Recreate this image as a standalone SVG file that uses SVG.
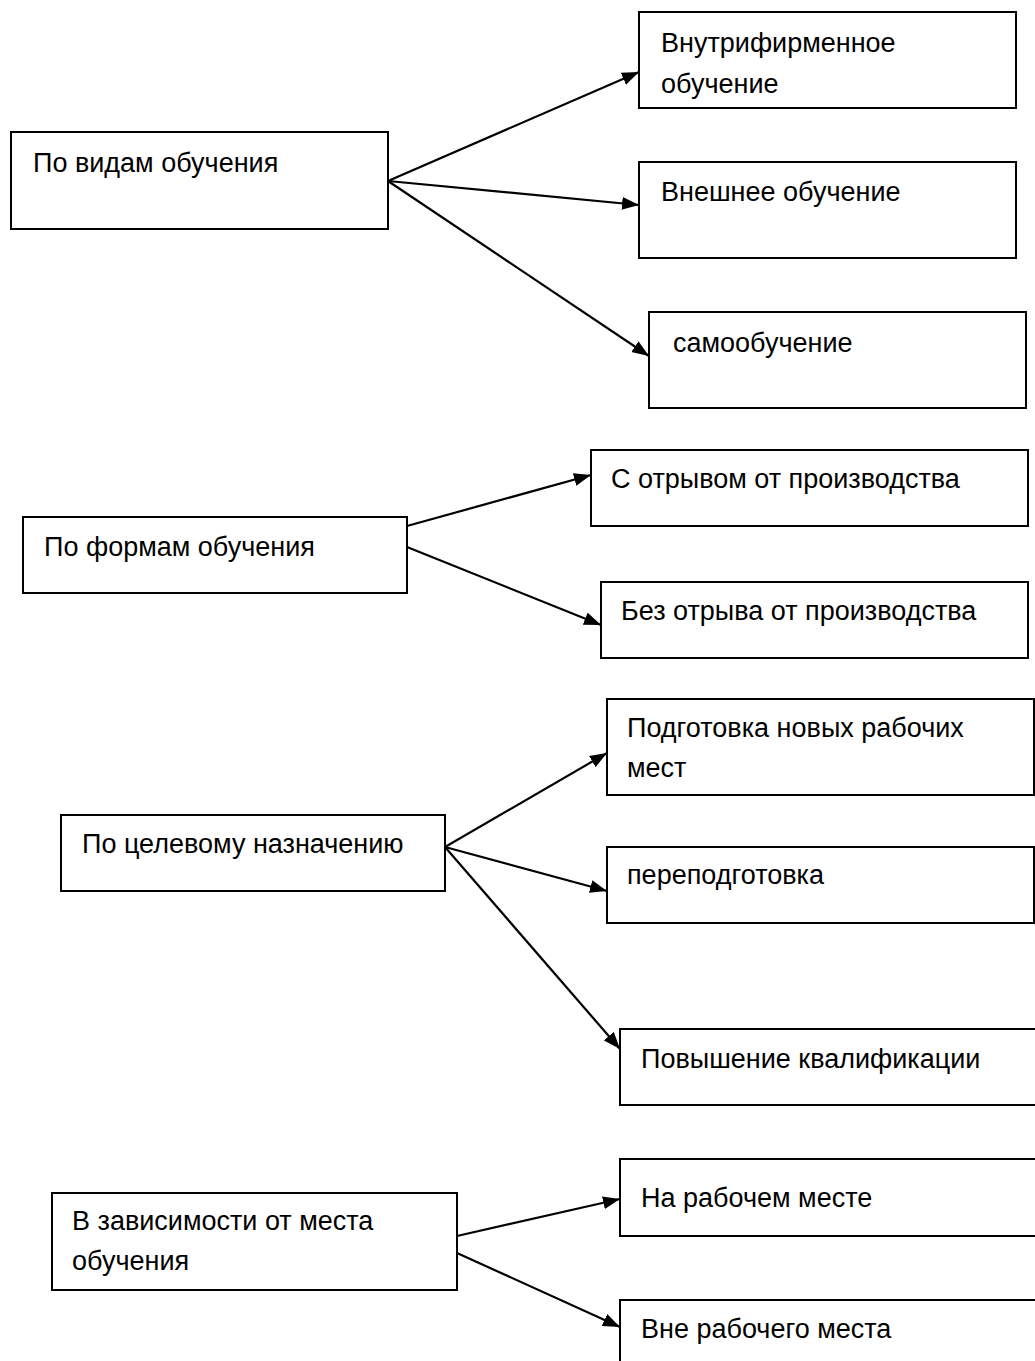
<svg xmlns="http://www.w3.org/2000/svg" width="1035" height="1361" viewBox="0 0 1035 1361">
<style>
.box{fill:#fff;stroke:#000;stroke-width:2}
.t{font-family:"Liberation Sans",Arial,sans-serif;font-size:27px;fill:#000}
.c{stroke:#000;stroke-width:2.2;fill:none}
</style>
<defs>
<marker id="ah" markerUnits="userSpaceOnUse" markerWidth="20" markerHeight="14" refX="17" refY="6.5" orient="auto">
<path d="M0,0 L17,6.5 L0,13 z" fill="#000"/>
</marker>
</defs>
<rect width="1035" height="1361" fill="#fff"/>
<g id="connectors">
<line class="c" x1="388" y1="181" x2="639" y2="72" marker-end="url(#ah)"/>
<line class="c" x1="388" y1="181" x2="639" y2="205" marker-end="url(#ah)"/>
<line class="c" x1="388" y1="181" x2="649" y2="356" marker-end="url(#ah)" stroke-width="1.7"/>
<line class="c" x1="407" y1="526" x2="591" y2="475" marker-end="url(#ah)"/>
<line class="c" x1="407" y1="547" x2="601" y2="625" marker-end="url(#ah)"/>
<line class="c" x1="445" y1="847" x2="607" y2="753" marker-end="url(#ah)"/>
<line class="c" x1="445" y1="847" x2="607" y2="891" marker-end="url(#ah)"/>
<line class="c" x1="445" y1="847" x2="620" y2="1049" marker-end="url(#ah)" stroke-width="1.7"/>
<line class="c" x1="457" y1="1236" x2="620" y2="1199" marker-end="url(#ah)"/>
<line class="c" x1="457" y1="1253" x2="620" y2="1327" marker-end="url(#ah)"/>
</g>
<g id="n1"><rect class="box" x="11" y="132" width="377" height="97"/><text class="t" x="33" y="172">По видам обучения</text></g>
<g id="n1a"><rect class="box" x="639" y="12" width="377" height="96"/><text class="t" x="661" y="52">Внутрифирменное</text><text class="t" x="661" y="93">обучение</text></g>
<g id="n1b"><rect class="box" x="639" y="162" width="377" height="96"/><text class="t" x="661" y="201">Внешнее обучение</text></g>
<g id="n1c"><rect class="box" x="649" y="312" width="377" height="96"/><text class="t" x="673" y="352">самообучение</text></g>
<g id="n2"><rect class="box" x="23" y="517" width="384" height="76"/><text class="t" x="44" y="556">По формам обучения</text></g>
<g id="n2a"><rect class="box" x="591" y="450" width="437" height="76"/><text class="t" x="611" y="488">С отрывом от производства</text></g>
<g id="n2b"><rect class="box" x="601" y="582" width="427" height="76"/><text class="t" x="621" y="620">Без отрыва от производства</text></g>
<g id="n3"><rect class="box" x="61" y="815" width="384" height="76"/><text class="t" x="82" y="853">По целевому назначению</text></g>
<g id="n3a"><rect class="box" x="607" y="699" width="427" height="96"/><text class="t" x="627" y="737">Подготовка новых рабочих</text><text class="t" x="627" y="777">мест</text></g>
<g id="n3b"><rect class="box" x="607" y="847" width="427" height="76"/><text class="t" x="627" y="884">переподготовка</text></g>
<g id="n3c"><rect class="box" x="620" y="1029" width="422" height="76"/><text class="t" x="641" y="1068">Повышение квалификации</text></g>
<g id="n4"><rect class="box" x="52" y="1193" width="405" height="97"/><text class="t" x="72" y="1230">В зависимости от места</text><text class="t" x="72" y="1270">обучения</text></g>
<g id="n4a"><rect class="box" x="620" y="1159" width="422" height="77"/><text class="t" x="641" y="1207">На рабочем месте</text></g>
<g id="n4b"><rect class="box" x="620" y="1300" width="422" height="90"/><text class="t" x="641" y="1338">Вне рабочего места</text></g>
</svg>
